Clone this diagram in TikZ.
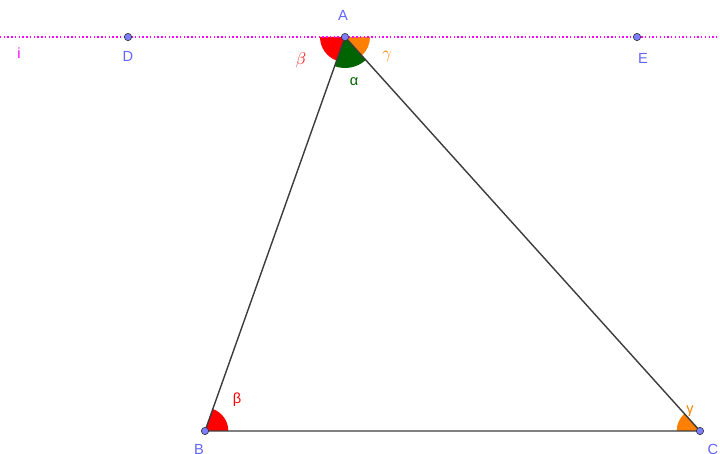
\documentclass[tikz,border=0pt]{standalone}
\usepackage{fontspec}
\setmainfont{Liberation Sans}
\usetikzlibrary{angles,positioning}
\definecolor{ptblue}{RGB}{125,125,255}
\definecolor{lblblue}{RGB}{100,100,255}
\definecolor{segGray}{RGB}{60,60,60}
\definecolor{angOrange}{RGB}{255,128,0}
\definecolor{angGreen}{RGB}{0,100,0}
\definecolor{lineMag}{RGB}{255,0,255}
\begin{document}
\begin{tikzpicture}[x=0.03cm, y=0.03cm,
    pt/.style={circle, fill=ptblue, draw=black!80, line width=0.5pt, inner sep=0pt, minimum size=0.22cm},
    lbl/.style={font=\fontsize{12.5}{14}\selectfont, text=lblblue, inner sep=0pt},
    seg/.style={draw=segGray, line width=1.2pt},
    sector/.style={angle radius=#1}]
    \useasboundingbox (0,0) rectangle (720,454);

    % Points
    \coordinate (A) at (345,417);
    \coordinate (B) at (205,23);
    \coordinate (C) at (700,23);
    \coordinate (D) at (128,417);
    \coordinate (E) at (637,417);
    \coordinate (iL) at (0,417);
    \coordinate (iR) at (720,417);

    % Angles
    \pic [fill=red, sector=0.75cm] {angle=D--A--B};
    \pic [fill=angGreen, sector=0.93cm] {angle=B--A--C};
    \pic [fill=angOrange, sector=0.75cm] {angle=C--A--E};
    \pic [fill=red, sector=0.7cm] {angle=C--B--A};
    \pic [fill=angOrange, sector=0.7cm] {angle=A--C--B};

    % Parallel line i
    \draw[lineMag, line width=1.3pt, dash pattern=on 1.2pt off 2pt] (iL) -- (iR);

    % Triangle
    \draw[seg] (A) -- (B) -- (C) -- cycle;

    \foreach \p in {A,B,C,D,E}
        \node[pt] (\p pt) at (\p) {};

    % Labels
    \node[lbl] (labA) at (343,439) {A};
    \node[lbl] (labB) at (199,5) {B};
    \node[lbl] (labC) at (713,5) {C};
    \node[lbl] (labD) at (128,398) {D};
    \node[lbl] (labE) at (643,396) {E};
    \node[lbl, text=lineMag] (labi) at (19,401) {i};

    \node[font=\fontsize{15}{16}\selectfont, text=red] (betaA) at (301,394) {$\beta$};
    \node[font=\fontsize{15}{16}\selectfont, text=angOrange] (gammaA) at (387,397) {$\gamma$};
    \node[lbl, text=angGreen] (alphaA) at (354,372) {α};
    \node[lbl, text=red] (betaB) at (237,54) {β};
    \node[lbl, text=angOrange] (gammaC) at (690,43) {γ};
\end{tikzpicture}
\end{document}
